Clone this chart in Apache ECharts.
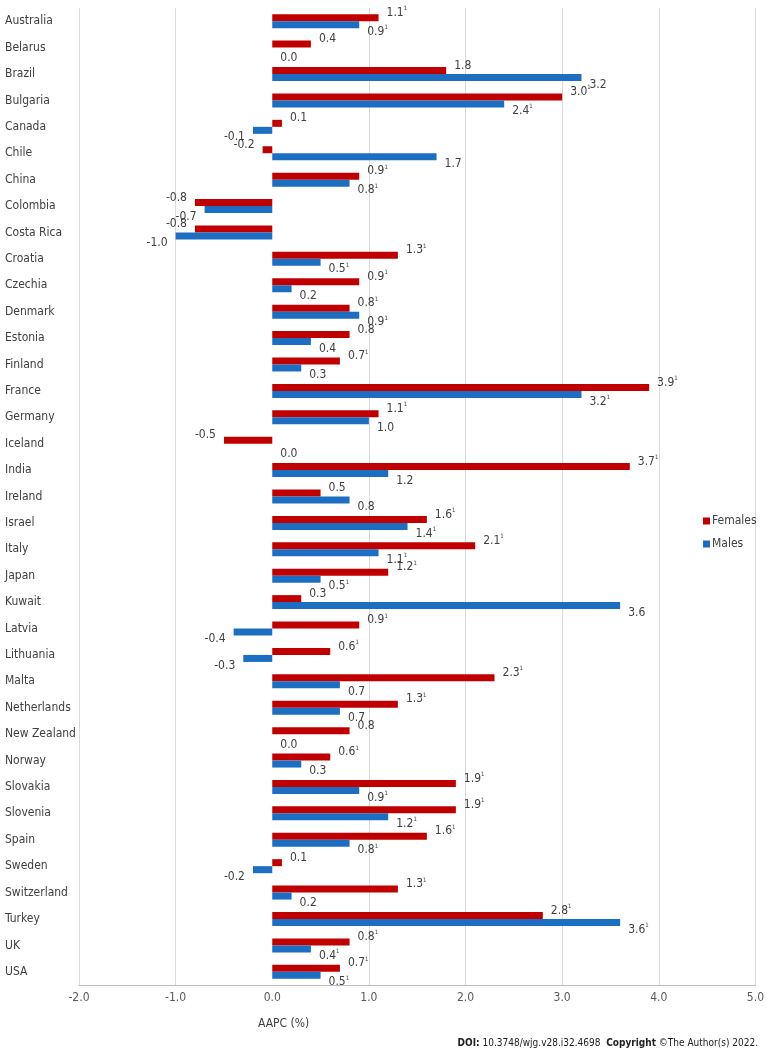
<!DOCTYPE html>
<html>
<head>
<meta charset="utf-8">
<script src="https://cdn.jsdelivr.net/npm/echarts@6/dist/echarts.min.js"></script>
<style>
  html, body { margin: 0; padding: 0; background: #fff; }
  #chart { width: 767px; height: 1048px; }
</style>
</head>
<body>
<div id="chart"></div>
<script>
const categories = ["Australia","Belarus","Brazil","Bulgaria","Canada","Chile","China","Colombia","Costa Rica","Croatia",
  "Czechia","Denmark","Estonia","Finland","France","Germany","Iceland","India","Ireland","Israel",
  "Italy","Japan","Kuwait","Latvia","Lithuania","Malta","Netherlands","New Zealand","Norway","Slovakia",
  "Slovenia","Spain","Sweden","Switzerland","Turkey","UK","USA"];

const femalesValues = [1.1,0.4,1.8,3.0,0.1,-0.1,0.9,-0.8,-0.8,1.3,
  0.9,0.8,0.8,0.7,3.9,1.1,-0.5,3.7,0.5,1.6,
  2.1,1.2,0.3,0.9,0.6,2.3,1.3,0.8,0.6,1.9,
  1.9,1.6,0.1,1.3,2.8,0.8,0.7];
const femalesLabels = ["1.1¹","0.4","1.8","3.0¹","0.1","-0.2","0.9¹","-0.8","-0.8","1.3¹",
  "0.9¹","0.8¹","0.8","0.7¹","3.9¹","1.1¹","-0.5","3.7¹","0.5","1.6¹",
  "2.1¹","1.2¹","0.3","0.9¹","0.6¹","2.3¹","1.3¹","0.8","0.6¹","1.9¹",
  "1.9¹","1.6¹","0.1","1.3¹","2.8¹","0.8¹","0.7¹"];

const malesValues = [0.9,0.0,3.2,2.4,-0.2,1.7,0.8,-0.7,-1.0,0.5,
  0.2,0.9,0.4,0.3,3.2,1.0,0.0,1.2,0.8,1.4,
  1.1,0.5,3.6,-0.4,-0.3,0.7,0.7,0.0,0.3,0.9,
  1.2,0.8,-0.2,0.2,3.6,0.4,0.5];
const malesLabels = ["0.9¹","0.0","3.2","2.4¹","-0.1","1.7","0.8¹","-0.7","-1.0","0.5¹",
  "0.2","0.9¹","0.4","0.3","3.2¹","1.0","0.0","1.2","0.8","1.4¹",
  "1.1¹","0.5¹","3.6","-0.4","-0.3","0.7","0.7","0.0","0.3","0.9¹",
  "1.2¹","0.8¹","-0.2","0.2","3.6¹","0.4¹","0.5¹"];

const xTicks = { min: -2, max: 5, interval: 1 };

const FONT = '"DejaVu Sans Condensed", "DejaVu Sans", sans-serif';
const TXT = '#404040';
const RED = '#C00000';
const BLUE = '#1B6EC2';

function richLabel(s) {
  if (s.indexOf('¹') >= 0) return '{v|' + s.replace('¹', '') + '}{s|1}';
  return '{v|' + s + '}';
}
const labelRich = {
  v: { fontSize: 12, color: TXT, fontFamily: FONT, lineHeight: 14 },
  s: { fontSize: 6, color: TXT, fontFamily: FONT, lineHeight: 14, verticalAlign: 'top', padding: [0, 0, 6, 0] }
};

function buildData(values, labels, dy) {
  return values.map((v, i) => ({
    value: v,
    label: {
      show: true,
      position: v < 0 ? 'left' : 'right',
      distance: 8,
      offset: [0, dy],
      formatter: () => richLabel(labels[i]),
      rich: labelRich
    }
  }));
}

const chart = echarts.init(document.getElementById('chart'), null, { renderer: 'canvas' });
const gridColor = '#d9d9d9';
chart.setOption({
  animation: false,
  backgroundColor: '#ffffff',
  textStyle: { fontFamily: FONT },
  grid: { left: 79, right: 11, top: 8, bottom: 63, containLabel: false },
  title: [
    { text: 'AAPC (%)', left: 253, top: 1013,
      textStyle: { fontSize: 12, fontWeight: 'normal', color: TXT, fontFamily: FONT } },
    { text: '{b|DOI:} 10.3748/wjg.v28.i32.4698  {b|Copyright} ©The Author(s) 2022.', right: 4, top: 1033,
      textStyle: { fontSize: 10, fontWeight: 'normal', color: '#222', fontFamily: FONT,
        rich: { b: { fontSize: 10, fontWeight: 'bold', color: '#222', fontFamily: FONT } } } }
  ],
  legend: {
    orient: 'vertical',
    left: 698, top: 510,
    itemWidth: 7, itemHeight: 7, itemGap: 11,
    icon: 'rect',
    textStyle: { fontSize: 12, color: TXT, fontFamily: FONT, padding: [0, 0, 0, -3] },
    data: ['Females', 'Males']
  },
  xAxis: {
    type: 'value',
    min: xTicks.min, max: xTicks.max, interval: xTicks.interval,
    axisLine: { show: true, onZero: false, lineStyle: { color: '#bfbfbf', width: 1 } },
    axisTick: { show: false },
    axisLabel: { color: '#595959', fontSize: 12, fontFamily: FONT, margin: 7,
      formatter: v => v.toFixed(1) },
    splitLine: { show: true, lineStyle: { color: [gridColor, gridColor, 'rgba(0,0,0,0)', gridColor, gridColor, gridColor, gridColor, gridColor], width: 1 } }
  },
  yAxis: {
    type: 'category',
    inverse: true,
    data: categories,
    axisLine: { show: false },
    axisTick: { show: false },
    axisLabel: { align: 'left', margin: 74, color: TXT, fontSize: 12, fontFamily: FONT, interval: 0 }
  },
  series: [
    { name: 'Females', type: 'bar', barWidth: 7, barGap: '0%',
      itemStyle: { color: RED },
      data: buildData(femalesValues, femalesLabels, -5) },
    { name: 'Males', type: 'bar', barWidth: 7, barGap: '0%',
      itemStyle: { color: BLUE },
      data: buildData(malesValues, malesLabels, 7) }
  ]
});
</script>
</body>
</html>
